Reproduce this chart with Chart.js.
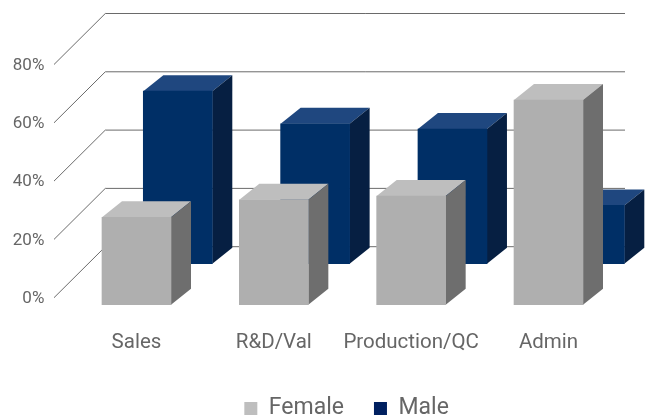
<!DOCTYPE html>
<html>
<head>
<meta charset="utf-8">
<style>html,body{margin:0;padding:0;background:#fff}canvas{display:block}</style>
<script src="https://cdn.jsdelivr.net/npm/chart.js@4"></script>
</head>
<body>
<canvas id="c" width="653" height="419"></canvas>
<script>
const categories = ["Sales", "R&D/Val", "Production/QC", "Admin"];
const femaleValues = [30, 36, 37.3, 70.2];
const maleValues = [59.2, 48, 46.2, 20];
const yTicks = [0, 20, 40, 60, 80];

const FONT = 'Roboto, sans-serif';
const TEXT = '#666666';
const looks = [
  { front: '#afafaf', top: '#bebebe', side: '#6e6e6e', dx: 0, dy: 7 },
  { front: '#002f66', top: '#1f477f', side: '#061f42', dx: 41.3, dy: -34 }
];
const BAR_DEPTH = { x: 20, y: 16 };
const WALL = { x: 51.3, y: -51 };
const AXIS_LEFT = 54, WALL_RIGHT = 625;
const LEGEND_SHIFT = { x: 38, y: 11 };

const depthPlugin = {
  id: 'depth',
  beforeInit(chart) { chart.ctx.letterSpacing = '1.4px'; },
  afterLayout(chart) {
    chart.legend.left += LEGEND_SHIFT.x;
    chart.legend.right += LEGEND_SHIFT.x;
    chart.legend.top += LEGEND_SHIFT.y;
    chart.legend.bottom += LEGEND_SHIFT.y;
  },
  beforeDatasetsDraw(chart) {
    const { ctx, scales: { y } } = chart;
    ctx.save();
    ctx.lineWidth = 1;
    ctx.strokeStyle = '#6a6a6a';
    y.ticks.forEach(t => {
      const py = y.getPixelForValue(t.value);
      ctx.beginPath();
      ctx.moveTo(AXIS_LEFT, py);
      ctx.lineTo(AXIS_LEFT + WALL.x, py + WALL.y);
      ctx.lineTo(WALL_RIGHT, py + WALL.y);
      ctx.stroke();
    });
    ctx.restore();
  },
  beforeDatasetDraw(chart, args) {
    const { ctx } = chart;
    const look = looks[args.index];
    ctx.save();
    ctx.translate(look.dx, look.dy);
    args.meta.data.forEach(bar => {
      const { x, y, base, width } = bar.getProps(['x', 'y', 'base', 'width'], true);
      const l = x - width / 2, r = x + width / 2;
      ctx.fillStyle = look.top;
      ctx.beginPath();
      ctx.moveTo(l, y);
      ctx.lineTo(l + BAR_DEPTH.x, y - BAR_DEPTH.y);
      ctx.lineTo(r + BAR_DEPTH.x, y - BAR_DEPTH.y);
      ctx.lineTo(r, y);
      ctx.closePath();
      ctx.fill();
      ctx.fillStyle = look.side;
      ctx.beginPath();
      ctx.moveTo(r, y);
      ctx.lineTo(r + BAR_DEPTH.x, y - BAR_DEPTH.y);
      ctx.lineTo(r + BAR_DEPTH.x, base - BAR_DEPTH.y);
      ctx.lineTo(r, base);
      ctx.closePath();
      ctx.fill();
    });
  },
  afterDatasetDraw(chart) { chart.ctx.restore(); }
};

new Chart(document.getElementById('c'), {
  type: 'bar',
  plugins: [depthPlugin],
  data: {
    labels: categories,
    datasets: [
      { label: 'Female', data: femaleValues, backgroundColor: looks[0].front, grouped: false, barThickness: 69, borderWidth: 0, clip: false },
      { label: 'Male', data: maleValues, backgroundColor: looks[1].front, grouped: false, barThickness: 69, borderWidth: 0, clip: false }
    ]
  },
  options: {
    responsive: false,
    animation: false,
    events: [],
    layout: { padding: { top: 64.5, right: 35.83, left: 0, bottom: 0 } },
    scales: {
      x: {
        grid: { display: false },
        border: { display: false },
        afterFit(s) { s.height = 419 - 297.7 - s.chart.legend.height; },
        ticks: { color: TEXT, font: { family: FONT, size: 20.5 }, padding: 25, maxRotation: 0, autoSkip: false }
      },
      y: {
        min: 0, max: 80,
        afterFit(s) { s.width = 67.83; },
        grid: { display: false },
        border: { display: false },
        afterBuildTicks(s) { s.ticks = yTicks.map(v => ({ value: v })); },
        ticks: { color: TEXT, font: { family: FONT, size: 17 }, padding: 15.5, labelOffset: 1, callback: v => v + '%' }
      }
    },
    plugins: {
      tooltip: { enabled: false },
      legend: {
        position: 'bottom',
        labels: {
          color: TEXT,
          font: { family: FONT, size: 23 },
          boxWidth: 13,
          boxHeight: 13,
          padding: 30,
          generateLabels: chart => chart.data.datasets.map((d, i) => ({
            text: d.label, datasetIndex: i, fontColor: TEXT, lineWidth: 0,
            fillStyle: i === 0 ? looks[0].top : '#002060', strokeStyle: 'transparent'
          }))
        }
      }
    }
  }
});
</script>
</body>
</html>
